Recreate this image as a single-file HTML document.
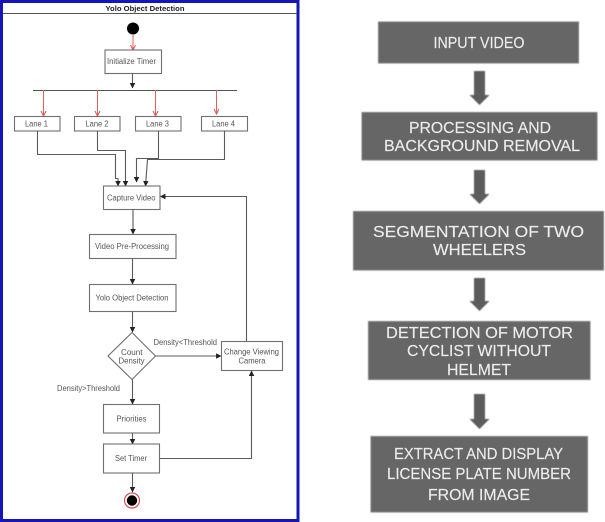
<!DOCTYPE html>
<html>
<head>
<meta charset="utf-8">
<style>
html,body{margin:0;padding:0;background:#fff;width:605px;height:522px;overflow:hidden}
svg{display:block}
.l{font-family:"Liberation Sans",sans-serif;font-size:7.8px;fill:#555}
.r{font-family:"Liberation Sans",sans-serif;font-size:15.5px;fill:#ececec;stroke:#ececec;stroke-width:0.15}
.b{fill:#fff;stroke:#707070;stroke-width:1.1}
.w{fill:none;stroke:#5a5a5a;stroke-width:1.1}
.p{fill:#666;stroke:#7a7a7a;stroke-width:1}
.a{fill:#5c5c5c}
</style>
</head>
<body>
<svg width="605" height="522" viewBox="0 0 605 522" xmlns="http://www.w3.org/2000/svg">
<defs>
<filter id="s" x="-5%" y="-5%" width="110%" height="110%"><feGaussianBlur stdDeviation="0.55"/></filter>
<filter id="q" x="-5%" y="-5%" width="110%" height="110%"><feGaussianBlur stdDeviation="0.35"/></filter>
<filter id="t" x="-5%" y="-5%" width="110%" height="110%"><feGaussianBlur stdDeviation="0.35"/></filter>
<marker id="k" markerWidth="6" markerHeight="6" refX="4.5" refY="2.5" orient="auto"><path d="M0,0L5,2.5L0,5z" fill="#222"/></marker>
<marker id="d" markerWidth="7" markerHeight="6" refX="5" refY="3" orient="auto"><path d="M0,0.5L5,3L0,5.5" fill="none" stroke="#e05050" stroke-width="1"/></marker>
</defs>

<g filter="url(#t)">
<rect x="1.500" y="1.500" width="296.500" height="519" fill="#fff" stroke="#1414b4" stroke-width="3"/>
<line x1="3" y1="13.500" x2="297" y2="13.500" stroke="#555"/>
<text x="105.500" y="11" font-family="Liberation Sans,sans-serif" font-size="7.6" font-weight="bold" fill="#222" textLength="79" lengthAdjust="spacingAndGlyphs">Yolo Object Detection</text>

<circle cx="133" cy="28.500" r="6" fill="#000"/>
<line x1="133" y1="35" x2="133" y2="50" stroke="#e06060" marker-end="url(#d)"/>
<rect class="b" x="105" y="50" width="56.500" height="23.500"/>
<text class="l" x="107" y="64" textLength="49" lengthAdjust="spacingAndGlyphs">Initialize Timer</text>
<line class="w" x1="132.500" y1="73.500" x2="132.500" y2="88" marker-end="url(#k)"/>
<line x1="33" y1="90.500" x2="237" y2="90.500" stroke="#555"/>

<g stroke="#e06060" fill="none">
<line x1="43.500" y1="90" x2="43.500" y2="116" marker-end="url(#d)"/>
<line x1="97.500" y1="90" x2="97.500" y2="116" marker-end="url(#d)"/>
<line x1="155.500" y1="90" x2="155.500" y2="116" marker-end="url(#d)"/>
<line x1="216.500" y1="90" x2="216.500" y2="114" marker-end="url(#d)"/>
</g>

<rect class="b" x="14.500" y="116.500" width="45.500" height="14.500"/>
<rect class="b" x="74.500" y="116.500" width="45.500" height="14.500"/>
<rect class="b" x="135.500" y="116.500" width="45.500" height="14.500"/>
<rect class="b" x="201.500" y="116.500" width="46" height="14.500"/>
<text class="l" x="25" y="126.500" textLength="23" lengthAdjust="spacingAndGlyphs">Lane 1</text>
<text class="l" x="85.500" y="126.500" textLength="23" lengthAdjust="spacingAndGlyphs">Lane 2</text>
<text class="l" x="146" y="126.500" textLength="23" lengthAdjust="spacingAndGlyphs">Lane 3</text>
<text class="l" x="212" y="126.500" textLength="23" lengthAdjust="spacingAndGlyphs">Lane 4</text>

<path class="w" d="M37.500,131V154.500H115.500V178.500H118V186" marker-end="url(#k)"/>
<path class="w" d="M97.500,131V150.500H125.500V186" marker-end="url(#k)"/>
<path class="w" d="M158.500,131V158.500H136.500V182" marker-end="url(#k)"/>
<path class="w" d="M224.500,131V159.500H147.500L145.500,186" marker-end="url(#k)"/>

<rect class="b" x="103.500" y="186" width="56.500" height="23.500"/>
<text class="l" x="107" y="200.500" textLength="48.500" lengthAdjust="spacingAndGlyphs">Capture Video</text>
<path class="w" d="M246.500,341.500V196.500H160.500" marker-end="url(#k)"/>
<line class="w" x1="133" y1="209.500" x2="133" y2="234" marker-end="url(#k)"/>

<rect class="b" x="89.500" y="234.500" width="86.500" height="24"/>
<text class="l" x="95" y="249" textLength="74" lengthAdjust="spacingAndGlyphs">Video Pre-Processing</text>
<line class="w" x1="132.500" y1="258.500" x2="132.500" y2="284" marker-end="url(#k)"/>

<rect class="b" x="89.500" y="284.500" width="86.500" height="27"/>
<text class="l" x="95.500" y="300.500" textLength="73" lengthAdjust="spacingAndGlyphs">Yolo Object Detection</text>
<line class="w" x1="132.500" y1="311.500" x2="132.500" y2="332" marker-end="url(#k)"/>

<polygon class="b" points="132,332.500 155.500,356 132,379.500 108,356"/>
<text class="l" x="121" y="355" textLength="21.500" lengthAdjust="spacingAndGlyphs">Count</text>
<text class="l" x="118.500" y="363.500" textLength="26" lengthAdjust="spacingAndGlyphs">Density</text>

<line class="w" x1="155.500" y1="356" x2="221" y2="356" marker-end="url(#k)"/>
<text class="l" x="153.500" y="345" textLength="63.500" lengthAdjust="spacingAndGlyphs">Density&lt;Threshold</text>

<rect class="b" x="221.500" y="341.500" width="61" height="29"/>
<text class="l" x="224" y="354.500" textLength="55" lengthAdjust="spacingAndGlyphs">Change Viewing</text>
<text class="l" x="238.500" y="363.500" textLength="27" lengthAdjust="spacingAndGlyphs">Camera</text>

<line class="w" x1="132.500" y1="379.500" x2="132.500" y2="404" marker-end="url(#k)"/>
<text class="l" x="57" y="391" textLength="63" lengthAdjust="spacingAndGlyphs">Density&gt;Threshold</text>

<rect class="b" x="103.500" y="404.500" width="56" height="28.500"/>
<text class="l" x="116.500" y="421.500" textLength="30" lengthAdjust="spacingAndGlyphs">Priorities</text>
<line class="w" x1="132.500" y1="433" x2="132.500" y2="444" marker-end="url(#k)"/>

<rect class="b" x="103.500" y="444" width="56" height="29"/>
<text class="l" x="115" y="461" textLength="32" lengthAdjust="spacingAndGlyphs">Set Timer</text>
<path class="w" d="M159.500,458.500H251.500V371" marker-end="url(#k)"/>
<line class="w" x1="132.500" y1="473" x2="132.500" y2="492" marker-end="url(#k)"/>

<circle cx="132" cy="500.500" r="7.500" fill="#fff" stroke="#e05050" stroke-width="1.200"/>
<circle cx="132" cy="500.500" r="5.200" fill="#000"/>
</g>

<g filter="url(#s)">
<rect class="p" x="378.500" y="22" width="200" height="41"/>
<rect class="p" x="362" y="112.500" width="235" height="47.500"/>
<rect class="p" x="353.500" y="211.500" width="250" height="58.500"/>
<rect class="p" x="368.500" y="321.500" width="221.500" height="58"/>
<rect class="p" x="371" y="436.500" width="216.500" height="75.500"/>

<path class="a" d="M474,71H485V95H489.500L479.500,105L469.500,95H474z"/>
<path class="a" d="M474,170H485V194H489.500L479.500,204L469.500,194H474z"/>
<path class="a" d="M474,278H485V301H489.500L479.500,311L469.500,301H474z"/>
<path class="a" d="M474,394H485V419H489.500L479.500,429L469.500,419H474z"/>
</g>

<g filter="url(#q)">
<text class="r" x="433.500" y="48" textLength="91" lengthAdjust="spacingAndGlyphs">INPUT VIDEO</text>
<text class="r" x="409" y="133" textLength="142" lengthAdjust="spacingAndGlyphs">PROCESSING AND</text>
<text class="r" x="384" y="151" textLength="196" lengthAdjust="spacingAndGlyphs">BACKGROUND REMOVAL</text>
<text class="r" x="373" y="237" textLength="211" lengthAdjust="spacingAndGlyphs">SEGMENTATION OF TWO</text>
<text class="r" x="433" y="255" textLength="93" lengthAdjust="spacingAndGlyphs">WHEELERS</text>
<text class="r" x="386" y="338" textLength="187" lengthAdjust="spacingAndGlyphs">DETECTION OF  MOTOR</text>
<text class="r" x="407" y="356" textLength="144" lengthAdjust="spacingAndGlyphs">CYCLIST WITHOUT</text>
<text class="r" x="447" y="375" textLength="64" lengthAdjust="spacingAndGlyphs">HELMET</text>
<text class="r" x="394" y="459" textLength="169" lengthAdjust="spacingAndGlyphs">EXTRACT AND DISPLAY</text>
<text class="r" x="387" y="479" textLength="184" lengthAdjust="spacingAndGlyphs">LICENSE PLATE NUMBER</text>
<text class="r" x="428" y="500" textLength="102" lengthAdjust="spacingAndGlyphs">FROM IMAGE</text>
</g>
</svg>
</body>
</html>
